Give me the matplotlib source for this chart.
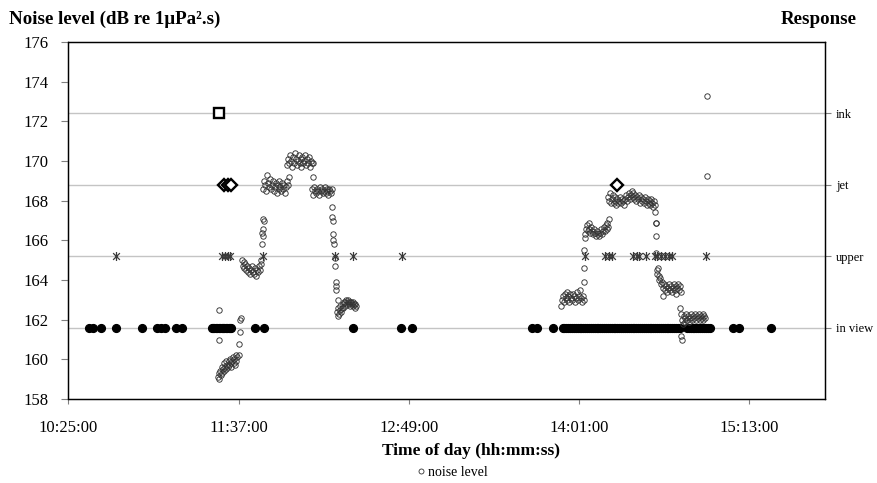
import matplotlib
matplotlib.use("Agg")
import matplotlib.pyplot as plt
from matplotlib.lines import Line2D
from matplotlib.path import Path

plt.rcParams['font.family'] = ['Liberation Serif', 'DejaVu Serif']

# ---------------- data ----------------
start_label = "10:25:00"
tick_labels = ["10:25:00", "11:37:00", "12:49:00", "14:01:00", "15:13:00"]
x_max_min = 320.0  # minutes after 10:25:00 at right edge

response_labels = ["in view", "upper", "jet", "ink"]

# noise level: minutes after 10:25:00, dB re 1uPa^2.s
noise_min = [
    63.8, 63.8,
    63.3, 63.6, 63.9, 64.2, 64.5, 64.8, 65.1, 65.4, 65.7, 66.0, 66.3, 66.6, 66.9, 67.2,
    67.5, 67.8, 68.1, 68.4, 68.7, 69.0, 69.3, 69.6, 69.9, 70.2, 70.5, 70.8, 71.1, 71.4,
    72.1, 72.2, 72.4, 72.7, 73.0,
    73.3, 73.7, 74.1, 74.5, 74.9, 75.3, 75.7, 76.1, 76.5, 76.9, 77.3, 77.7, 78.1, 78.5,
    78.9, 79.3, 79.7, 80.1, 80.5, 80.9, 81.3, 81.7,
    81.9, 82.0, 82.3, 82.4, 82.5, 82.7,
    82.5, 82.9, 83.3, 83.7, 84.1, 84.5, 84.9, 85.3, 85.7, 86.1, 86.5, 86.9, 87.3, 87.7,
    88.1, 88.5, 88.9, 89.3, 89.7, 90.1, 90.5, 90.9, 91.3, 91.7, 92.1, 92.5, 92.9, 93.3,
    92.6, 93.0, 93.4, 93.8, 94.2, 94.6, 95.0, 95.4, 95.8, 96.2, 96.6, 97.0, 97.4, 97.8,
    98.2, 98.6, 99.0, 99.4, 99.8, 100.2, 100.6, 101.0, 101.4, 101.8, 102.2, 102.6, 103.0,
    103.4, 103.4,
    103.2, 103.6, 104.0, 104.4, 104.8, 105.2, 105.6, 106.0, 106.4, 106.8, 107.2, 107.6,
    108.0, 108.4, 108.8, 109.2, 109.6, 110.0, 110.4, 110.8, 111.2, 111.6,
    111.4, 111.6, 111.9, 112.0, 112.1, 112.2, 112.6, 112.7, 113.0, 113.1, 113.2, 114.0,
    113.6, 113.9, 114.2, 114.5, 114.8, 115.1, 115.4, 115.7, 116.0, 116.3, 116.6, 116.9,
    117.2, 117.5, 117.8, 118.1, 118.4, 118.7, 119.0, 119.3, 119.6, 119.9, 120.2, 120.5,
    120.8, 121.1, 121.4, 121.7,
    208.3, 208.7, 209.1, 209.5, 209.9, 210.3, 210.7, 211.1, 211.5, 211.9, 212.3, 212.7,
    213.1, 213.5, 213.9, 214.3, 214.7, 215.1, 215.5, 215.9, 216.3, 216.7, 217.1, 217.5, 217.9,
    218.0, 218.1, 218.2, 218.3,
    218.4, 218.8, 219.2, 219.6, 220.0, 220.4, 220.8, 221.2, 221.6, 222.0, 222.4, 222.8,
    223.2, 223.6, 224.0, 224.4, 224.8, 225.2, 225.6, 226.0, 226.4, 226.8, 227.2, 227.6,
    228.0, 228.4, 228.8,
    228.2, 228.6, 229.0, 229.4, 229.8, 230.2, 230.6, 231.0, 231.4, 231.8, 232.2, 232.6,
    233.0, 233.4, 233.8, 234.2, 234.6, 235.0, 235.4, 235.8, 236.2, 236.6, 237.0, 237.4,
    237.8, 238.2, 238.6, 239.0, 239.4, 239.8, 240.2, 240.6, 241.0, 241.4, 241.8, 242.2,
    242.6, 243.0, 243.4, 243.8, 244.2, 244.6, 245.0, 245.4, 245.8, 246.2, 246.6, 247.0,
    247.4, 247.8, 248.2,
    248.3, 248.4, 248.5, 248.6, 248.7,
    248.8, 249.1, 249.4, 249.7, 250.0, 250.4, 250.8, 251.2, 251.6, 252.0, 252.4, 252.8,
    253.2, 253.6, 254.0, 254.4, 254.8, 255.2, 255.6, 256.0, 256.4, 256.8, 257.2, 257.6,
    258.0, 258.4, 258.8, 259.2, 251.4,
    258.8, 259.1, 259.7,
    259.0, 259.4, 259.8, 260.2, 260.6, 261.0, 261.4, 261.8, 262.2, 262.6, 263.0, 263.4,
    263.8, 264.2, 264.6, 265.0, 265.4, 265.8, 266.2, 266.6, 267.0, 267.4, 267.8, 268.2,
    268.6, 269.0, 269.4,
    270.1, 270.1,
]
noise_db = [
    162.5, 161.0,
    159.1, 159.3, 159.0, 159.4, 159.2, 159.6, 159.3, 159.5, 159.8, 159.4, 159.6, 159.9, 159.5, 159.7,
    159.6, 159.9, 159.7, 160.0, 159.8, 159.6, 159.9, 160.1, 159.8, 160.0, 159.7, 160.2, 159.9, 160.1,
    160.2, 160.8, 161.4, 162.0, 162.1,
    165.0, 164.7, 164.9, 164.6, 164.8, 164.5, 164.7, 164.4, 164.6, 164.3, 164.5, 164.7, 164.4, 164.3,
    164.6, 164.2, 164.5, 164.4, 164.7, 164.5, 164.8, 165.0,
    165.8, 166.4, 166.2, 166.6, 167.1, 167.0,
    168.6, 169.0, 168.8, 168.5, 169.3, 168.9, 168.7, 169.1, 168.6, 168.8, 169.0, 168.5, 168.7, 168.9,
    168.4, 168.8, 168.6, 169.0, 168.7, 168.5, 168.9, 168.6, 168.8, 168.4, 168.7, 169.0, 168.8, 169.2,
    169.8, 170.1, 169.9, 170.3, 170.0, 169.7, 170.2, 169.9, 170.4, 170.1, 169.8, 170.0, 170.3, 169.9,
    170.1, 169.7, 170.2, 169.9, 170.0, 170.3, 169.8, 170.1, 169.9, 170.2, 169.7, 170.0, 169.9,
    169.2, 169.9,
    168.6, 168.3, 168.7, 168.5, 168.4, 168.6, 168.5, 168.3, 168.7, 168.5, 168.6, 168.4,
    168.5, 168.7, 168.4, 168.6, 168.5, 168.3, 168.6, 168.5, 168.4, 168.6,
    167.7, 167.2, 167.0, 166.3, 166.0, 165.8, 165.1, 164.7, 163.9, 163.7, 163.5, 163.0,
    162.4, 162.2, 162.6, 162.3, 162.5, 162.7, 162.4, 162.6, 162.8, 162.6, 162.9, 162.7,
    162.9, 163.0, 162.8, 162.9, 163.0, 162.8, 162.9, 162.7, 162.9, 162.8, 162.7, 162.9,
    162.8, 162.6, 162.8, 162.7,
    162.7, 163.0, 163.2, 162.9, 163.3, 163.1, 163.4, 163.0, 163.2, 162.9, 163.3, 163.1,
    163.0, 163.3, 163.2, 162.9, 163.1, 163.4, 163.0, 163.2, 163.5, 163.1, 162.9, 163.2, 163.0,
    163.9, 164.6, 165.5, 166.1,
    166.3, 166.6, 166.8, 166.5, 166.9, 166.6, 166.4, 166.7, 166.5, 166.3, 166.6, 166.4,
    166.2, 166.5, 166.3, 166.2, 166.4, 166.6, 166.3, 166.5, 166.7, 166.5, 166.8, 166.6,
    166.9, 166.7, 167.1,
    168.2, 168.0, 168.4, 167.9, 168.1, 168.3, 167.9, 168.0, 168.2, 167.8, 168.1, 167.9,
    168.0, 168.2, 167.9, 168.1, 168.0, 167.8, 168.1, 168.3, 168.0, 168.2, 168.4, 168.1,
    168.3, 168.5, 168.2, 168.4, 168.1, 168.3, 168.0, 168.2, 168.1, 168.3, 167.9, 168.2,
    168.0, 168.1, 167.9, 168.2, 168.0, 167.8, 168.1, 167.9, 168.0, 167.8, 168.1, 167.9,
    167.7, 168.0, 167.8,
    167.45, 166.9, 166.9, 166.2, 165.35,
    164.5, 164.3, 164.6, 164.2, 164.0, 164.1, 163.8, 163.9, 163.6, 163.8, 163.5, 163.7,
    163.4, 163.6, 163.8, 163.5, 163.7, 163.4, 163.6, 163.8, 163.5, 163.7, 163.3, 163.6,
    163.8, 163.5, 163.7, 163.4, 163.2,
    162.6, 161.2, 161.0,
    162.3, 162.0, 161.8, 162.2, 161.9, 162.1, 162.3, 162.0, 162.2, 161.9, 162.1, 162.3,
    162.0, 162.2, 162.1, 162.3, 162.0, 162.2, 162.1, 162.3, 162.0, 162.2, 162.1, 162.3,
    162.0, 162.2, 162.1,
    169.25, 173.3,
]

# responses: minutes after 10:25:00
in_view_min = [
    8.9, 10.6, 13.8, 20.2, 31.1, 37.6, 39.2, 40.9, 45.5, 47.9,
    60.6, 61.2, 61.8, 62.4, 63.0, 63.6, 64.2, 64.8, 65.4, 66.0, 66.6, 67.2, 67.8, 68.4, 69.0,
    78.9, 82.8, 120.3, 140.9, 145.5, 196.2, 198.0, 204.9,
    209.0, 209.8, 210.6, 211.4, 212.2, 213.0, 213.8, 214.6, 215.4, 216.2, 217.0, 217.8,
    218.6, 219.4, 220.2, 221.0, 221.8, 222.6, 223.4, 224.2, 225.0, 225.8, 226.6, 227.4,
    228.2, 229.0, 229.8, 230.6, 231.4, 232.2, 233.0, 233.8, 234.6, 235.4, 236.2, 237.0,
    237.8, 238.6, 239.4, 240.2, 241.0, 241.8, 242.6, 243.4, 244.2, 245.0, 245.8, 246.6,
    247.4, 248.2, 249.0, 249.8, 250.6, 251.4, 252.2, 253.0, 253.8, 254.6, 255.4, 256.2,
    257.0, 257.8, 258.6, 261.6, 262.4, 263.2, 264.0, 264.8, 265.6, 266.4, 267.2, 268.0,
    268.8, 269.6, 270.4, 271.2, 281.0, 283.8, 297.3,
]
upper_min = [
    20.2, 64.9, 66.2, 67.5, 68.3, 82.3, 112.7, 120.3, 141.0, 218.3,
    226.8, 228.5, 230.1, 238.6, 240.3, 241.5, 244.5, 248.3, 249.1,
    250.8, 252.5, 254.2, 255.5, 269.7,
]
jet_min = [65.8, 67.5, 68.7, 231.9]
ink_min = [63.8]

# ---------------- figure ----------------
def to_min(label):
    h, m, s = (int(v) for v in label.split(":"))
    h0, m0, s0 = (int(v) for v in start_label.split(":"))
    return (h * 60 + m + s / 60) - (h0 * 60 + m0 + s0 / 60)

# Excel-like star marker: X plus a vertical bar
star = Path(
    [(0, -1), (0, 1), (-0.75, -0.75), (0.75, 0.75), (-0.75, 0.75), (0.75, -0.75)],
    [Path.MOVETO, Path.LINETO, Path.MOVETO, Path.LINETO, Path.MOVETO, Path.LINETO],
)

W, H = 877, 483
fig = plt.figure(figsize=(W / 100, H / 100), dpi=100)
ax = fig.add_axes([68.3 / W, 1 - 399.1 / H, (825 - 68.3) / W, (399.1 - 42.1) / H])
ax2 = ax.twinx()
ax.set_zorder(ax2.get_zorder() + 1)
ax.patch.set_visible(False)

# response axis (behind)
ax2.set_ylim(0, 5)
ax2.set_yticks([1, 2, 3, 4])
ax2.set_yticklabels(response_labels, fontsize=9)
ax2.grid(axis="y", color="#c4c4c4", linewidth=1.0)
ax2.set_axisbelow(True)
ax2.plot(in_view_min, [1] * len(in_view_min), "o", color="black", markersize=5.6,
         linestyle="none", zorder=3)
ax2.plot(upper_min, [2] * len(upper_min), marker=star, color="#3a3a3a",
         markersize=6.5, markeredgewidth=0.9, linestyle="none", zorder=3)
ax2.plot(jet_min, [3] * len(jet_min), "D", markerfacecolor="white", markeredgecolor="black",
         markeredgewidth=1.7, markersize=6.3, linestyle="none", zorder=3)
ax2.plot(ink_min, [4] * len(ink_min), "s", markerfacecolor="white", markeredgecolor="black",
         markeredgewidth=1.7, markersize=7, linestyle="none", zorder=3)

# noise level (front)
ax.plot(noise_min, noise_db, "o", markerfacecolor="none", markeredgecolor="#333333",
        markeredgewidth=0.65, markersize=3.9, linestyle="none", zorder=4)

ax.set_xlim(0, x_max_min)
ax.set_ylim(158, 176)
ax.set_yticks(range(158, 177, 2))
ax.set_xticks([to_min(t) for t in tick_labels])
ax.set_xticklabels(tick_labels)
ax.tick_params(axis="both", direction="out", length=4.8, width=0.8, color="#808080",
               labelsize=12)
ax.tick_params(axis="y", pad=9.5)
ax.tick_params(axis="x", length=3.8, pad=11)
ax2.tick_params(axis="y", direction="out", length=4, width=0.8, color="#808080", pad=4)
for a in (ax, ax2):
    for s in a.spines.values():
        s.set_color("black")
        s.set_linewidth(0.9)

fig.text(9 / W, 1 - 19 / H, "Noise level (dB re 1\u03bcPa\u00b2.s)", fontsize=13.6,
         fontweight="bold", ha="left", va="center")
fig.text(857 / W, 1 - 19 / H, "Response", fontsize=13.6, fontweight="bold",
         ha="right", va="center")
fig.text(471 / W, 1 - 451 / H, "Time of day (hh:mm:ss)", fontsize=12.5,
         fontweight="bold", ha="center", va="center")

handle = Line2D([], [], marker="o", markerfacecolor="none", markeredgecolor="#333333",
                markeredgewidth=0.6, markersize=3.6, linestyle="none")
fig.legend([handle], ["noise level"], loc="center", bbox_to_anchor=(452 / W, 1 - 472 / H),
           frameon=False, fontsize=10, handletextpad=0.1, handlelength=0.8,
           borderpad=0.1)

fig.savefig("out.png", dpi=100)
